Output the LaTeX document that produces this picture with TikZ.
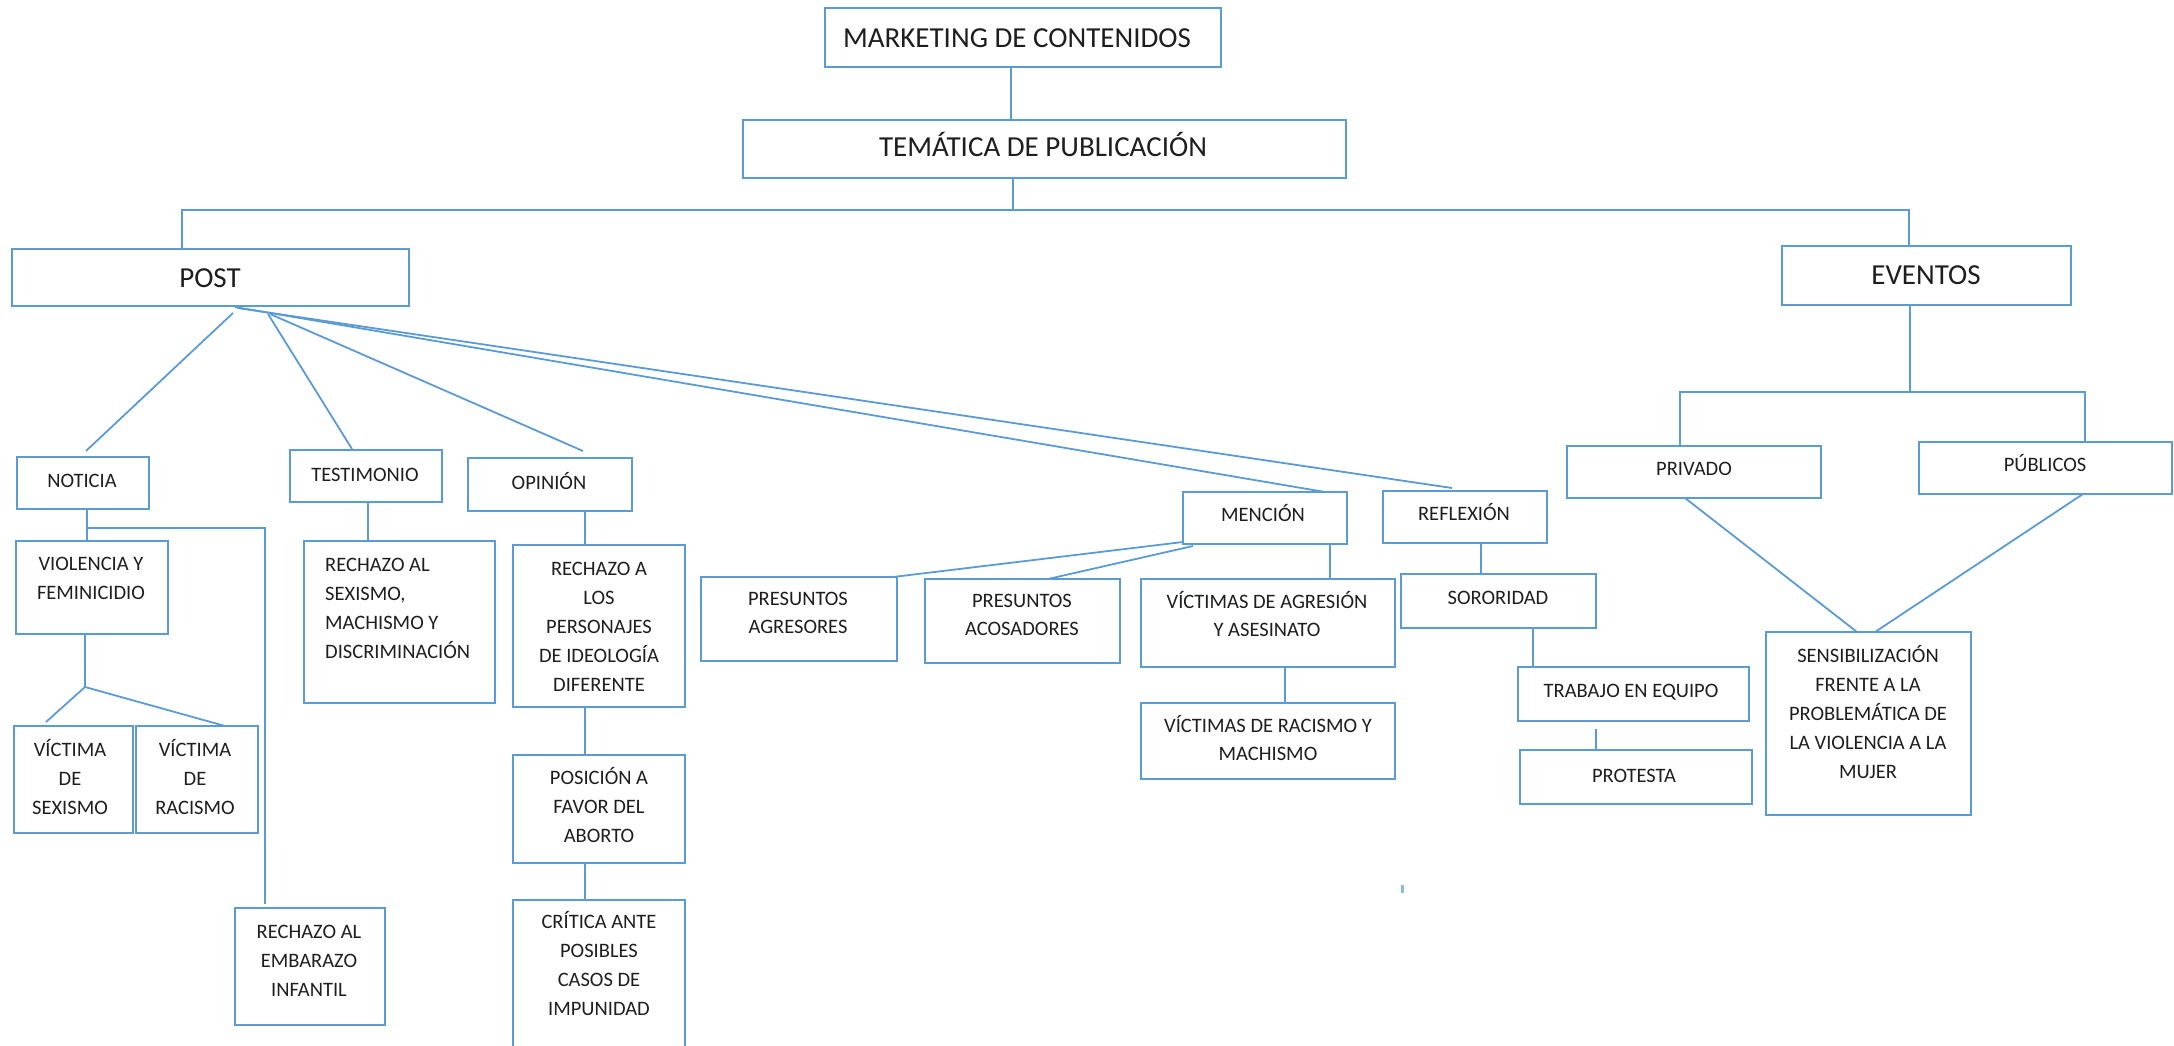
\documentclass[tikz,border=0pt]{standalone}
\usepackage{fontspec}
\setmainfont{Carlito}
\usetikzlibrary{calc}
\definecolor{lineblue}{HTML}{5B9BD5}
\definecolor{ink}{HTML}{1E1E1E}
% box given by its corners (x1,y1) and (x2,y2), in pixel units
\newcommand\mkbox[5]{%
  \node[bx, minimum width={#4-#2}, minimum height={#5-#3}] (#1) at ({(#2+#4)/2},{(#3+#5)/2}) {};}
\begin{document}
\begin{tikzpicture}[x=1pt,y=-1pt,
  bx/.style={draw=lineblue, line width=2pt, inner sep=0pt, outer sep=0pt},
  conn/.style={draw=lineblue, line width=1.8pt},
  big/.style={font=\fontsize{29}{35}\selectfont, inner sep=0pt, text=ink, anchor=base},
  % multi-line labels are placed by the baseline of their last line
  sm/.style={font=\fontsize{20.5}{29}\selectfont, inner sep=0pt, align=center, text=ink, anchor=base},
  smtight/.style={sm, font=\fontsize{20.5}{27.5}\selectfont},
]
\useasboundingbox (0,0) rectangle (2174,1046);

% ---- boxes ----
\mkbox{mkt}{825}{8}{1221}{67}
\mkbox{tem}{743}{120}{1346}{178}
\mkbox{post}{12}{249}{409}{306}
\mkbox{eventos}{1782}{246}{2071}{305}
\mkbox{noticia}{17}{457}{149}{509}
\mkbox{testimonio}{290}{450}{442}{502}
\mkbox{opinion}{468}{458}{632}{511}
\mkbox{mencion}{1183}{492}{1347}{544}
\mkbox{reflexion}{1383}{491}{1547}{543}
\mkbox{privado}{1567}{446}{1821}{498}
\mkbox{publicos}{1919}{442}{2172}{494}
\mkbox{violencia}{16}{541}{168}{634}
\mkbox{vsex}{14}{726}{133}{833}
\mkbox{vrac}{136}{726}{258}{833}
\mkbox{embarazo}{235}{908}{385}{1025}
\mkbox{rsexismo}{304}{541}{495}{703}
\mkbox{personajes}{513}{545}{685}{707}
\mkbox{posicion}{513}{755}{685}{863}
\mkbox{critica}{513}{900}{685}{1060}
\mkbox{agresores}{701}{577}{897}{661}
\mkbox{acosadores}{925}{579}{1120}{663}
\mkbox{vagresion}{1141}{579}{1395}{667}
\mkbox{vracismo}{1141}{703}{1395}{779}
\mkbox{sororidad}{1401}{574}{1596}{628}
\mkbox{trabajo}{1518}{667}{1749}{721}
\mkbox{protesta}{1520}{750}{1752}{804}
\mkbox{sensib}{1766}{632}{1971}{815}

% ---- labels ----
\node[big] (mkt-t) at (1017,48) {MARKETING DE CONTENIDOS};
\node[big] (tem-t) at (1043,157) {TEMÁTICA DE PUBLICACIÓN};
\node[big] (post-t) at (210,287) {POST};
\node[big] (eventos-t) at (1926,284) {EVENTOS};

\node[sm] (noticia-t) at (82,487) {NOTICIA};
\node[sm] (testimonio-t) at (365,481) {TESTIMONIO};
\node[sm] (opinion-t) at (549,489) {OPINIÓN};
\node[sm] (mencion-t) at (1263,521) {MENCIÓN};
\node[sm] (reflexion-t) at (1464,520) {REFLEXIÓN};
\node[sm] (privado-t) at (1694,475) {PRIVADO};
\node[sm] (publicos-t) at (2045,471) {PÚBLICOS};
\node[sm] (violencia-t) at (91,599) {VIOLENCIA Y\\FEMINICIDIO};
\node[sm] (vsex-t) at (70,814) {VÍCTIMA\\DE\\SEXISMO};
\node[sm] (vrac-t) at (195,814) {VÍCTIMA\\DE\\RACISMO};
\node[sm] (embarazo-t) at (309,996) {RECHAZO AL\\EMBARAZO\\INFANTIL};
\node[sm, align=left, anchor=base west] (rsexismo-t) at (325,658) {RECHAZO AL\\SEXISMO,\\MACHISMO Y\\DISCRIMINACIÓN};
\node[sm] (personajes-t) at (599,691) {RECHAZO A\\LOS\\PERSONAJES\\DE IDEOLOGÍA\\DIFERENTE};
\node[sm] (posicion-t) at (599,842) {POSICIÓN A\\FAVOR DEL\\ABORTO};
\node[sm] (critica-t) at (599,1015) {CRÍTICA ANTE\\POSIBLES\\CASOS DE\\IMPUNIDAD};
\node[smtight] (agresores-t) at (798,633) {PRESUNTOS\\AGRESORES};
\node[smtight] (acosadores-t) at (1022,635) {PRESUNTOS\\ACOSADORES};
\node[smtight] (vagresion-t) at (1267,636) {VÍCTIMAS DE AGRESIÓN\\Y ASESINATO};
\node[smtight] (vracismo-t) at (1268,760) {VÍCTIMAS DE RACISMO Y\\MACHISMO};
\node[sm] (sororidad-t) at (1498,604) {SORORIDAD};
\node[sm] (trabajo-t) at (1631,697) {TRABAJO EN EQUIPO};
\node[sm] (protesta-t) at (1634,782) {PROTESTA};
\node[sm] (sensib-t) at (1868,778) {SENSIBILIZACIÓN\\FRENTE A LA\\PROBLEMÁTICA DE\\LA VIOLENCIA A LA\\MUJER};

% ---- connectors ----
\coordinate (busA) at (1013,210);
\coordinate (busB) at (1910,392);
\coordinate (brk) at (87,528);
\coordinate (fork) at (85,687);

\draw[conn] ([xshift=-12pt]mkt.south) -- ([xshift=-33.5pt]tem.north);
\draw[conn] ([xshift=-31.5pt]tem.south) -- (busA);
\draw[conn] (busA) -| ([xshift=-28.5pt]post.north);
\draw[conn] (busA) -| ([xshift=-17.5pt]eventos.north);

\draw[conn] ([xshift=-16.5pt]eventos.south) -- (busB);
\draw[conn] (busB) -| ([xshift=-14pt]privado.north);
\draw[conn] (busB) -| ([xshift=39.5pt]publicos.north);
\draw[conn] ([xshift=-9pt]privado.south) -- ([xshift=-11.5pt]sensib.north);
\draw[conn] ([xshift=37.5pt]publicos.south) -- ([xshift=6.5pt]sensib.north);

\draw[conn] ([xshift=22.5pt,yshift=-7pt]post.south) -- ([xshift=3pt,yshift=6pt]noticia.north);
\draw[conn] ([xshift=57.5pt,yshift=-8pt]post.south) -- ([xshift=-14pt,yshift=1pt]testimonio.north);
\draw[conn] ([xshift=59.5pt,yshift=-8pt]post.south) -- ([xshift=33pt,yshift=7pt]opinion.north);
\draw[conn] ([xshift=24.5pt,yshift=-1pt]post.south) -- ([xshift=60pt]mencion.north);
\draw[conn] ([xshift=27pt,yshift=-2pt]post.south) -- ([xshift=-13pt,yshift=3pt]reflexion.north);

\draw[conn] ([xshift=4pt]noticia.south) -- ([xshift=-5pt]violencia.north);
\draw[conn] (brk) -| ([xshift=-45pt,yshift=4pt]embarazo.north);
\draw[conn] ([xshift=-7pt]violencia.south) -- (fork);
\draw[conn] (fork) -- ([xshift=-27.5pt,yshift=4pt]vsex.north);
\draw[conn] (fork) -- ([xshift=28pt]vrac.north);

\draw[conn] ([xshift=2pt]testimonio.south) -- ([xshift=-31.5pt]rsexismo.north);
\draw[conn] ([xshift=35pt]opinion.south) -- ([xshift=-14pt]personajes.north);
\draw[conn] ([xshift=-14pt]personajes.south) -- ([xshift=-14pt]posicion.north);
\draw[conn] ([xshift=-14pt]posicion.south) -- ([xshift=-14pt]critica.north);

\draw[conn] ([yshift=2pt]mencion.south west) -- ([xshift=-4pt]agresores.north east);
\draw[conn] ([xshift=10pt,yshift=-2pt]mencion.south west) -- ([xshift=25.5pt]acosadores.north);
\draw[conn] ([xshift=65pt]mencion.south) -- ([xshift=62pt]vagresion.north);
\draw[conn] ([xshift=17pt]vagresion.south) -- ([xshift=17pt]vracismo.north);

\draw[conn] ([xshift=16pt]reflexion.south) -- ([xshift=-17.5pt]sororidad.north);
\draw[conn] ([xshift=34.5pt]sororidad.south) -- ([xshift=-100.5pt]trabajo.north);
\draw[conn] ([xshift=-37.5pt,yshift=-8pt]trabajo.south) -- ([xshift=-40pt]protesta.north);

% small stray tick below the centre boxes
\draw[lineblue!70, line width=3pt] (1402,885) -- (1402,893);
\end{tikzpicture}
\end{document}
